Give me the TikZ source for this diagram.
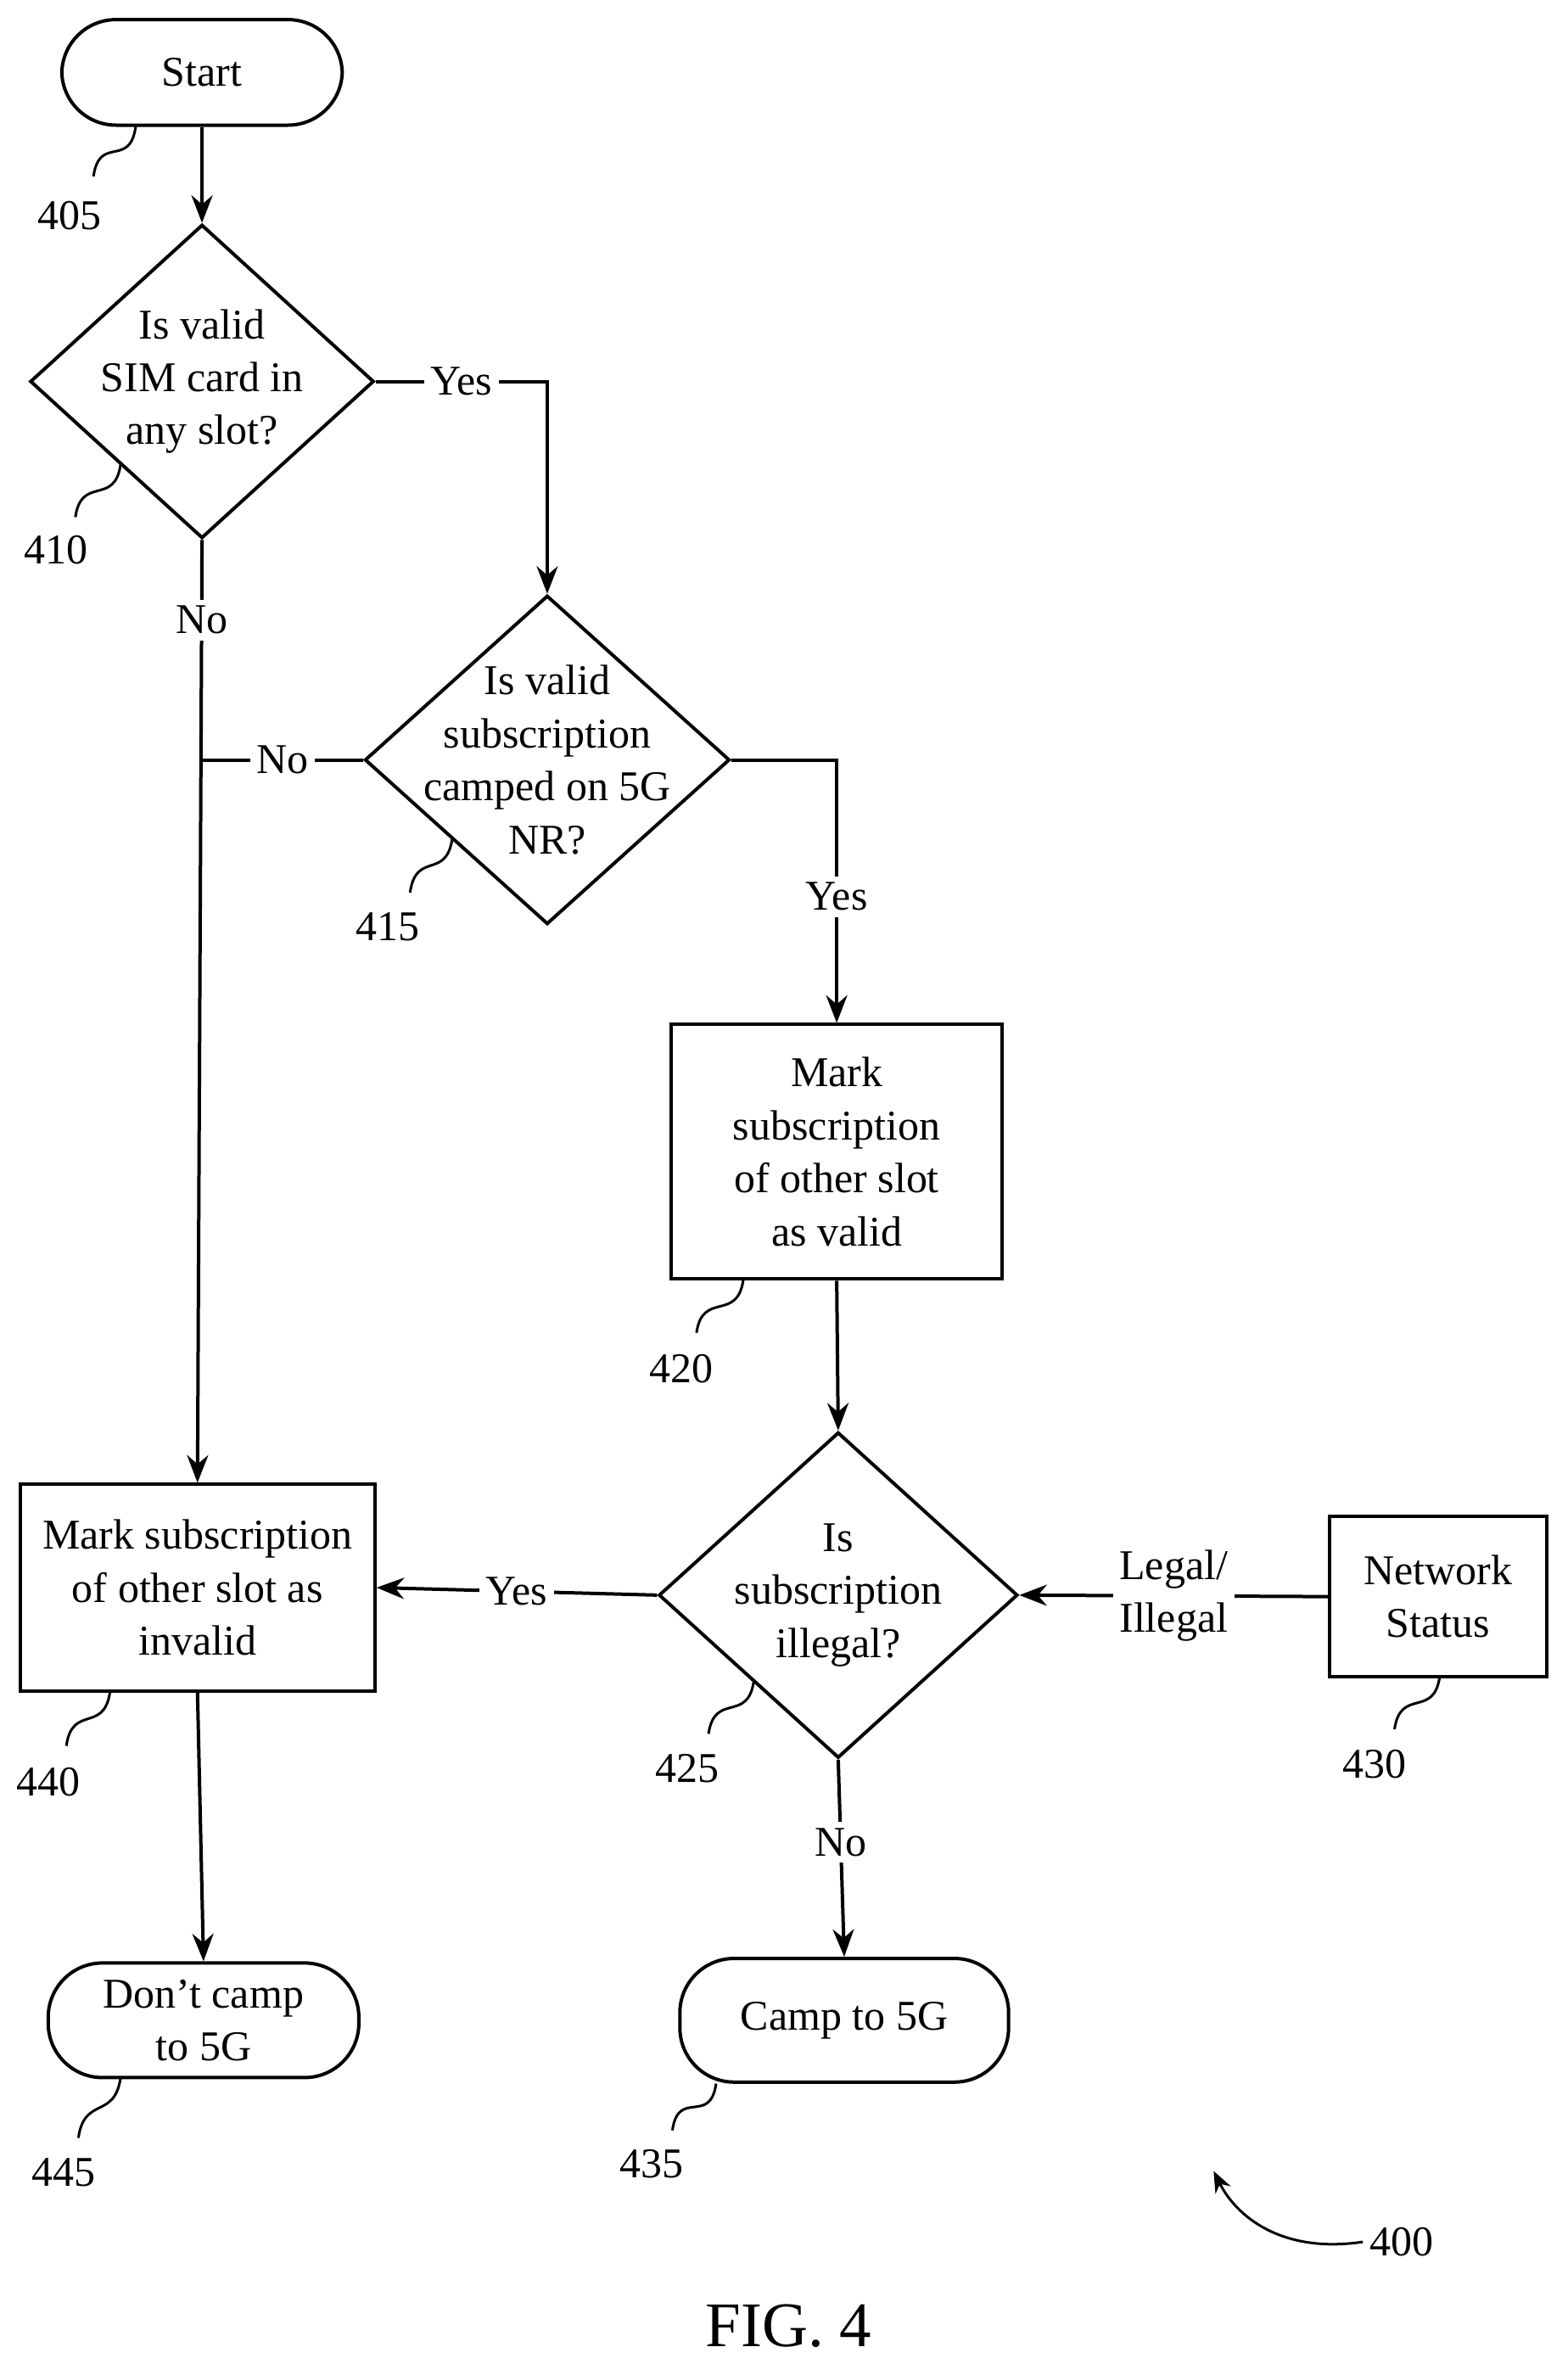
\documentclass[tikz,border=0pt]{standalone}
\usepackage{fontspec}
\setmainfont{Liberation Serif}
\usetikzlibrary{shapes.geometric,arrows.meta}

\tikzset{
  every node/.style={font=\fontsize{20}{25}\selectfont},
  box/.style={draw, line width=1.6pt, rectangle, align=center, inner sep=0pt},
  term/.style={box, rounded corners=0.9cm},
  dia/.style={draw, line width=1.6pt, diamond, inner sep=0pt},
  line/.style={line width=1.6pt},
  arr/.style={line, -{Stealth[length=13pt,width=10pt]}},
  yn/.style={fill=white, inner sep=3pt},
  squig/.style={line width=1.2pt, to path={.. controls ($(\tikztostart)+(-4,28)$) and ($(\tikztotarget)+(4,-28)$) .. (\tikztotarget)}},
}
\usetikzlibrary{calc}

\begin{document}
\begin{tikzpicture}[x=0.025cm, y=-0.025cm]
	\useasboundingbox (0,0) rectangle (1040,1568);

	% shapes
	\node[term, minimum width=4.65cm, minimum height=1.75cm] (start) at (134,48) {Start};
	\node[dia, minimum width=5.7cm, minimum height=5.2cm,
		label={[align=center]center:Is valid\\SIM card in\\any slot?}] (d410) at (134,253) {};
	\node[dia, minimum width=6.05cm, minimum height=5.45cm,
		label={[align=center]center:Is valid\\subscription\\camped on 5G\\NR?}] (d415) at (363,504) {};
	\node[box, minimum width=5.48cm, minimum height=4.22cm] (b420) at (555,764) {Mark\\subscription\\of other slot\\as valid};
	\node[dia, minimum width=5.95cm, minimum height=5.4cm,
		label={[align=center]center:Is\\subscription\\illegal?}] (d425) at (556,1058) {};
	\node[box, minimum width=3.6cm, minimum height=2.65cm] (b430) at (954,1059) {Network\\Status};
	\node[box, minimum width=5.88cm, minimum height=3.42cm] (b440) at (131,1053) {Mark subscription\\of other slot as\\invalid};
	\node[term, minimum width=5.45cm, minimum height=2.05cm] (t435) at (560,1340) {Camp to 5G};
	\node[term, minimum width=5.15cm, minimum height=1.9cm] (t445) at (135,1340) {Don't camp\\to 5G};
	\coordinate (j415) at (134,504);

	% connectors
	\draw[arr] (start.south) -- (d410.north);
	\draw[arr] (d410.east) -| node[pos=0.25, yn] {Yes} (d415.north);
	\draw[arr] (d410.south) -- node[pos=0.085, yn] {No} (b440.north);
	\draw[line] (d415.west) -- node[yn] {No} (j415);
	\draw[arr] (d415.east) -| node[pos=0.76, yn] {Yes} (b420.north);
	\draw[arr] (b420.south) -- (d425.north);
	\draw[arr] (d425.west) -- node[yn] {Yes} (b440.east);
	\draw[arr] (b430.west) -- node[yn, align=center] {Legal/\\Illegal} (d425.east);
	\draw[arr] (d425.south) -- node[pos=0.42, yn] {No} (t435.north);
	\draw[arr] (b440.south) -- (t445.north);

	% reference numerals
	\node (n405) at (46,143) {405};
	\node (n410) at (37,365) {410};
	\node (n415) at (257,615) {415};
	\node (n420) at (452,908) {420};
	\node (n425) at (456,1173) {425};
	\node (n430) at (912,1170) {430};
	\node (n440) at (32,1182) {440};
	\node (n435) at (432,1435) {435};
	\node (n445) at (42,1441) {445};
	\node (n400) at (930,1487) {400};
	\draw[squig] (90,84) to (62,117);
	\draw[squig] (80,308) to (50,343);
	\draw[squig] (300,556) to (272,592);
	\draw[squig] (493,849) to (462,884);
	\draw[squig] (500,1115) to (470,1150);
	\draw[squig] (955,1112) to (925,1147);
	\draw[squig] (73,1122) to (44,1158);
	\draw[squig] (475,1382) to (446,1413);
	\draw[squig] (80,1378) to (52,1418);
	\draw[line width=1.2pt, -{Stealth[length=10pt,width=8pt]}] (n400.west) .. controls (850,1495) and (820,1470) .. (805,1440);

	\node[font=\fontsize{30}{36}\selectfont] (fig) at (523,1543) {FIG. 4};
\end{tikzpicture}
\end{document}
